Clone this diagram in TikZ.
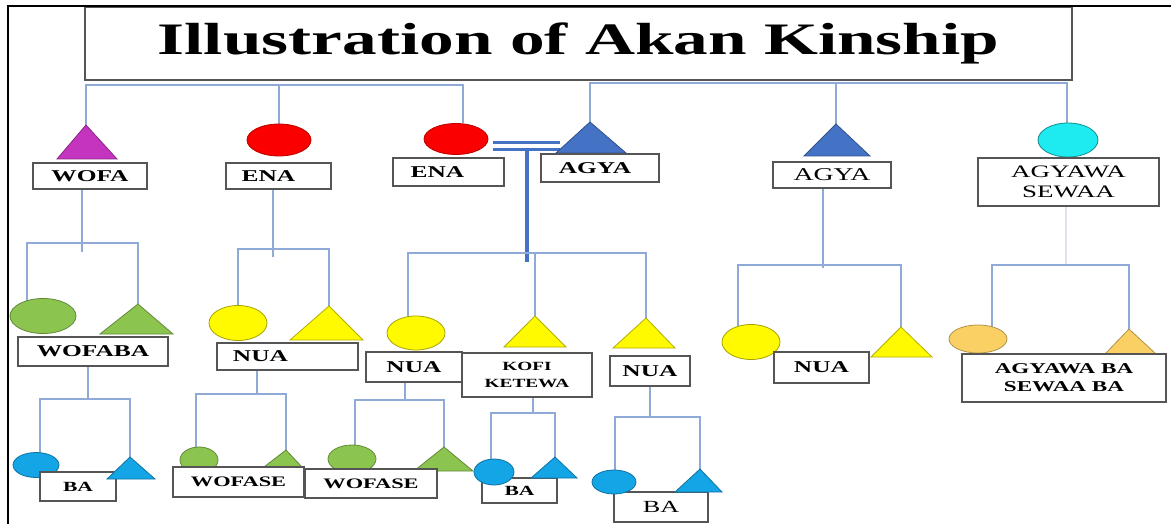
\documentclass[tikz,border=0pt]{standalone}
\usepackage{fontspec}
\usetikzlibrary{shapes.geometric,backgrounds}
\newfontfamily\tnr[FakeStretch=1.54]{Liberation Serif}
\definecolor{linkblue}{RGB}{143,170,215}
\definecolor{faint}{RGB}{222,228,238}
\definecolor{marr}{RGB}{68,114,196}
\definecolor{boxgray}{RGB}{85,85,85}
\definecolor{mag}{RGB}{196,52,190}
\definecolor{redc}{RGB}{250,0,0}
\definecolor{agyab}{RGB}{68,114,196}
\definecolor{cyanc}{RGB}{30,235,240}
\definecolor{grn}{RGB}{140,196,80}
\definecolor{ylw}{RGB}{255,250,0}
\definecolor{sky}{RGB}{20,165,230}
\definecolor{org}{RGB}{250,208,100}
% name, apex x, apex y, left x, right x, base y, colour
\newcommand\tri[7]{%
  \filldraw[fill=#7, draw=#7!70!black, line width=0.8pt] (#4,#6) -- (#2,#3) -- (#5,#6) -- cycle;
  \coordinate (#1) at (#2,#3);}
\begin{document}
\begin{tikzpicture}[x=1pt,y=-1pt,
  link/.style={draw=linkblue, line width=1.4pt},
  box/.style={draw=boxgray, line width=1.3pt, fill=white, inner sep=0pt, outer sep=0pt, align=center},
  bf/.style={font=\tnr\bfseries\fontsize{#1pt}{#1pt}\selectfont},
  rg/.style={font=\tnr\fontsize{#1pt}{#1pt}\selectfont},
  ell/.style={ellipse, inner sep=0pt, outer sep=0pt, line width=0.8pt},
]
\useasboundingbox (0,0) rectangle (1171,524);

% title
\node[box, line width=1.5pt, minimum width=987pt, minimum height=73pt,
      font=\tnr\bfseries\fontsize{45pt}{50pt}\selectfont] (title) at (578.5,43.5) {Illustration of Akan Kinship};
\coordinate (frBL) at (8,524);
\coordinate (frTL) at (8,6);
\coordinate (frTR) at (1171,6);
\draw[line width=2pt] (frBL) -- (frTL) -- (frTR);

% ---------- generation 1 ----------
\tri{wofaT}{86}{125}{57}{117}{159}{mag}
\node[ell, fill=redc, draw=redc!75!black, minimum width=64pt, minimum height=32pt] (ena1C) at (279,140) {};
\node[ell, fill=redc, draw=redc!75!black, minimum width=64pt, minimum height=31pt] (ena2C) at (456,139) {};
\tri{agya2T}{590}{122}{556}{626}{153}{agyab}
\tri{agya3T}{836}{124}{804}{870}{156}{agyab}
\node[ell, fill=cyanc, draw=cyanc!60!black, minimum width=60pt, minimum height=34pt] (sewaaC) at (1068,140) {};

\node[box, bf=16.5, minimum width=114pt, minimum height=26pt] (wofa) at (90,176) {WOFA};
\node[box, bf=16.5, minimum width=105pt, minimum height=26pt] (ena1) at (278.5,176) {ENA\hspace*{20pt}};
\node[box, bf=16.5, minimum width=111pt, minimum height=28pt] (ena2) at (448.5,172) {ENA\hspace*{22pt}};
\node[box, bf=16.5, minimum width=118pt, minimum height=28pt] (agya2) at (600,168) {AGYA\hspace*{10pt}};
\node[box, rg=18, minimum width=118pt, minimum height=26pt] (agya3) at (832,175) {AGYA};
\node[box, font=\tnr\fontsize{17.5pt}{20pt}\selectfont, minimum width=181pt, minimum height=48pt] (sewaa) at (1068.5,182) {AGYAWA\\SEWAA};

% ---------- generation 2 ----------
\node[ell, fill=grn, draw=grn!70!black, minimum width=66pt, minimum height=35pt] (wfbC) at (43,316) {};
\tri{wfbT}{138}{304}{100}{173}{334}{grn}
\node[box, bf=16.5, minimum width=150pt, minimum height=29pt] (wofaba) at (93,351.5) {WOFABA};

\node[ell, fill=ylw, draw=ylw!65!black, minimum width=58pt, minimum height=35pt] (nua1C) at (238,323) {};
\tri{nua1T}{329}{306}{290}{363}{340}{ylw}
\node[box, bf=16.5, minimum width=141pt, minimum height=27pt] (nua1) at (287.5,356.5) {NUA\hspace*{54pt}};

\node[ell, fill=ylw, draw=ylw!65!black, minimum width=58pt, minimum height=34pt] (nua2C) at (416,333) {};
\node[box, bf=16.5, minimum width=96pt, minimum height=30pt] (nua2) at (414,367) {NUA};
\tri{kofiT}{535}{316}{504}{566}{347}{ylw}
\node[box, font=\tnr\bfseries\fontsize{12.5pt}{17pt}\selectfont, minimum width=130pt, minimum height=44pt] (kofi) at (527,375) {KOFI\\KETEWA};
\tri{nua3T}{646}{318}{613}{675}{348}{ylw}
\node[box, bf=16.5, minimum width=80pt, minimum height=30pt] (nua3) at (650,371) {NUA};

\node[ell, fill=ylw, draw=ylw!65!black, minimum width=58pt, minimum height=35pt] (nua4C) at (751,342) {};
\tri{nua4T}{901}{327}{871}{932}{357}{ylw}
\node[box, bf=16.5, minimum width=95pt, minimum height=31pt] (nua4) at (821.5,367.5) {NUA};

\node[ell, fill=org, draw=org!70!black, minimum width=58pt, minimum height=28pt] (orgC) at (978,339) {};
\tri{orgT}{1129}{329}{1105}{1156}{354}{org}
\node[box, font=\tnr\bfseries\fontsize{15pt}{18pt}\selectfont, minimum width=204pt, minimum height=48pt] (agywba) at (1064,378) {AGYAWA BA\\SEWAA BA};

% ---------- generation 3 ----------
\node[ell, fill=sky, draw=sky!70!black, minimum width=46pt, minimum height=25pt] (ba1C) at (36,465) {};
\node[box, bf=14, minimum width=76pt, minimum height=29pt] (ba1) at (78,486.5) {BA};
\tri{ba1T}{130}{457}{107}{155}{479}{sky}

\node[ell, fill=grn, draw=grn!70!black, minimum width=38pt, minimum height=26pt] (wfs1C) at (199,460) {};
\node[ell, fill=grn, draw=grn!70!black, minimum width=48pt, minimum height=28pt] (wfs2C) at (352,459) {};
\tri{wfs1T}{286}{450}{264}{302}{467}{grn}
\tri{wfs2T}{444}{447}{414}{473}{471}{grn}
\node[box, bf=14.5, minimum width=131pt, minimum height=30pt] (wfs1) at (238.5,482) {WOFASE};
\node[box, bf=14.5, minimum width=132pt, minimum height=29pt] (wfs2) at (371,483.5) {WOFASE};

\node[box, bf=14, minimum width=75pt, minimum height=25pt] (ba2) at (519.5,490.5) {BA};
\node[ell, fill=sky, draw=sky!70!black, minimum width=40pt, minimum height=26pt] (ba2C) at (494,472) {};
\tri{ba2T}{555}{457}{531}{577}{478}{sky}

\node[box, rg=17, minimum width=94pt, minimum height=30pt] (ba3) at (661,507) {BA};
\node[ell, fill=sky, draw=sky!70!black, minimum width=44pt, minimum height=24pt] (ba3C) at (614,482) {};
\tri{ba3T}{700}{469}{675}{722}{492}{sky}

% ---------- connectors ----------
\begin{scope}[on background layer]
  % top buses
  \coordinate (busA) at (463,85);
  \draw[link] (wofaT) |- (busA) -- (busA |- ena2C.north);
  \draw[link] (ena1C.north) -- (ena1C.north |- busA);
  \coordinate (busB) at (1067,83);
  \draw[link] (agya2T) |- (busB) -- (busB |- sewaaC.north);
  \draw[link] (agya3T) -- (agya3T |- busB);
  % marriage
  \coordinate (mL) at (493,146.5);
  \coordinate (mR) at (560,146.5);
  \draw[draw=marr, line width=3pt, double=white, double distance=4pt] (mL) -- (mR);
  \coordinate (mT) at (527,150);
  \coordinate (mD) at (527,262);
  \draw[draw=marr, line width=3.5pt] (mT) -- (mD);
  \coordinate (bus3L) at (408,253);
  \coordinate (bus3R) at (646,253);
  \draw[link] (bus3L |- nua2C.center) -- (bus3L) -- (bus3R) -- (nua3T);
  \draw[link] (kofiT) -- (kofiT |- bus3L);
  % WOFA -> children
  \coordinate (j1) at (82,252);
  \draw[link] (wofa.south -| j1) -- (j1);
  \coordinate (bus7L) at (27,243);
  \coordinate (bus7R) at (138,243);
  \draw[link] (bus7L |- wfbC.center) -- (bus7L) -- (bus7R) -- (wfbT);
  % WOFABA -> children
  \coordinate (j5) at (88,399);
  \draw[link] (wofaba.south -| j5) -- (j5);
  \coordinate (bus8L) at (40,399);
  \coordinate (bus8R) at (130,399);
  \draw[link] (bus8L |- ba1C.center) -- (bus8L) -- (bus8R) -- (ba1T);
  % ENA -> children
  \coordinate (j2) at (273,257);
  \draw[link] (ena1.south -| j2) -- (j2);
  \coordinate (bus4L) at (238,249);
  \coordinate (bus4R) at (329,249);
  \draw[link] (nua1C.center) -- (bus4L) -- (bus4R) -- (nua1T);
  % NUA (left) -> children
  \coordinate (j3) at (257,394);
  \draw[link] (nua1.south -| j3) -- (j3);
  \coordinate (bus5L) at (196,394);
  \coordinate (bus5R) at (286,394);
  \draw[link] (bus5L |- wfs1C.center) -- (bus5L) -- (bus5R) -- (wfs1T);
  % NUA (middle) -> children
  \coordinate (j4) at (405,400);
  \draw[link] (nua2.south -| j4) -- (j4);
  \coordinate (bus6L) at (355,400);
  \coordinate (bus6R) at (444,400);
  \draw[link] (bus6L |- wfs2C.center) -- (bus6L) -- (bus6R) -- (wfs2T);
  % KOFI KETEWA -> children
  \coordinate (j6) at (533,413);
  \draw[link] (kofi.south -| j6) -- (j6);
  \coordinate (bus9L) at (491,413);
  \coordinate (bus9R) at (555,413);
  \draw[link] (bus9L |- ba2C.center) -- (bus9L) -- (bus9R) -- (ba2T);
  % NUA (right) -> children
  \coordinate (j7) at (650,417);
  \draw[link] (nua3.south -| j7) -- (j7);
  \coordinate (bus10L) at (615,417);
  \coordinate (bus10R) at (700,417);
  \draw[link] (bus10L |- ba3C.center) -- (bus10L) -- (bus10R) -- (ba3T);
  % AGYA -> children
  \coordinate (j8) at (823,268);
  \draw[link] (agya3.south -| j8) -- (j8);
  \coordinate (bus11L) at (738,265);
  \coordinate (bus11R) at (901,265);
  \draw[link] (bus11L |- nua4C.center) -- (bus11L) -- (bus11R) -- (nua4T);
  % AGYAWA SEWAA -> children
  \coordinate (j9) at (1066,264);
  \draw[draw=faint, line width=1.2pt] (sewaa.south -| j9) -- (j9);
  \coordinate (bus12L) at (992,265);
  \coordinate (bus12R) at (1129,265);
  \draw[link] (bus12L |- orgC.center) -- (bus12L) -- (bus12R) -- (orgT);
\end{scope}
\end{tikzpicture}
\end{document}
